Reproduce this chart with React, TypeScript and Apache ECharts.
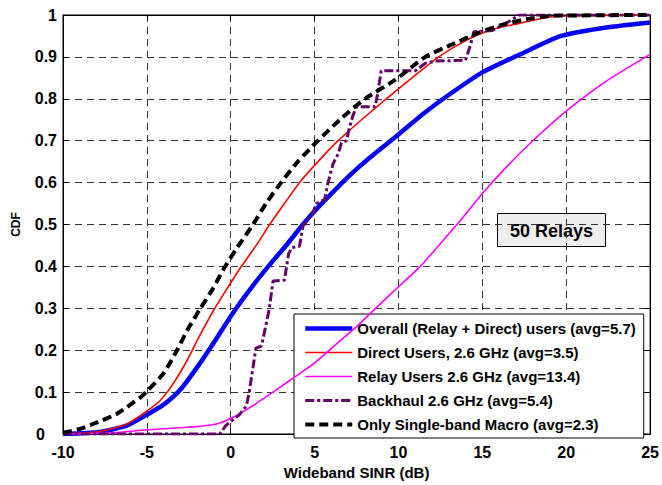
import React, { useEffect, useRef } from "react";
import * as echarts from "echarts";

const FONT = "'Liberation Sans', Arial, Helvetica, sans-serif";

const overallUsers: [number, number][] = [
  [-10, 0], [-7.8, 0.005], [-6.2, 0.02], [-5, 0.046], [-4, 0.07], [-3, 0.106],
  [-1.85, 0.168], [-0.85, 0.228], [0.15, 0.29], [1.3, 0.353], [2.3, 0.403],
  [3.3, 0.45], [4.3, 0.5], [5.3, 0.545], [6.4, 0.59], [7.3, 0.625], [8.3, 0.66],
  [10, 0.715], [11.5, 0.765], [13.2, 0.815], [15, 0.863], [17.2, 0.905],
  [19.6, 0.949], [22, 0.968], [25, 0.982],
];

const directUsers: [number, number][] = [
  [-10, 0], [-7.8, 0.006], [-6.2, 0.024], [-5, 0.055], [-4.2, 0.08], [-3.4, 0.122],
  [-2.6, 0.176], [-1.85, 0.235], [-1.05, 0.293], [-0.25, 0.345], [0.55, 0.395],
  [1.6, 0.455], [2.32, 0.5], [3.2, 0.55], [4.1, 0.6], [5.2, 0.65], [6.4, 0.7],
  [7.8, 0.75], [9.27, 0.8], [10.8, 0.85], [12.4, 0.9], [13.6, 0.93], [14.8, 0.954],
  [16, 0.97], [17.2, 0.98], [18.3, 0.99], [19.4, 0.997], [25, 1],
];

const relayUsers: [number, number][] = [
  [-10, 0], [-7, 0.003], [-5, 0.01], [-2.6, 0.016], [-0.85, 0.024], [0.15, 0.04],
  [1.3, 0.067], [2.3, 0.094], [3.6, 0.13], [5, 0.17], [6.3, 0.215], [7.6, 0.26],
  [8.9, 0.31], [10.1, 0.355], [11.3, 0.4], [12.4, 0.45], [13.7, 0.51], [15, 0.574],
  [16.5, 0.64], [18.2, 0.707], [20.2, 0.777], [22.5, 0.845], [25, 0.906],
];

const backhaul: [number, number][] = [
  [-10, 0], [-0.65, 0], [-0.3, 0.02], [0, 0.03], [0.5, 0.045], [0.93, 0.067],
  [1.1, 0.1], [1.33, 0.16], [1.5, 0.205], [1.83, 0.21], [2.1, 0.26], [2.3, 0.3],
  [2.52, 0.365], [3.2, 0.367], [3.45, 0.43], [3.65, 0.445], [4.1, 0.448],
  [4.3, 0.496], [4.9, 0.528], [5.1, 0.55], [5.6, 0.56], [5.8, 0.6], [6.1, 0.645],
  [6.4, 0.668], [6.6, 0.695], [6.9, 0.7], [7.1, 0.735], [7.3, 0.762], [7.5, 0.781],
  [8.6, 0.781], [8.75, 0.81], [8.97, 0.867], [11.0, 0.867], [11.6, 0.885],
  [12.2, 0.89], [14.0, 0.892], [14.3, 0.93], [14.5, 0.96], [15.6, 0.963],
  [16.4, 0.98], [17.2, 1.0], [25, 1.0],
];

const singleBandMacro: [number, number][] = [
  [-10, 0.003], [-9, 0.012], [-8.2, 0.024], [-6.8, 0.048], [-5.4, 0.087], [-5, 0.102],
  [-4, 0.145], [-3.2, 0.2], [-2.6, 0.247], [-1.85, 0.297], [-1.05, 0.348],
  [-0.45, 0.392], [0.3, 0.44], [1.33, 0.5], [2.1, 0.55], [3.0, 0.6],
  [4.0, 0.65], [5.2, 0.7], [6.5, 0.75], [8.0, 0.8], [9.8, 0.845], [11.6, 0.9],
  [13.2, 0.93], [14.8, 0.958], [16.2, 0.977], [17.6, 0.99], [19.2, 0.998], [25, 1],
];

const seriesNames = [
  "Overall (Relay + Direct) users (avg=5.7)",
  "Direct Users, 2.6 GHz (avg=3.5)",
  "Relay Users 2.6 GHz (avg=13.4)",
  "Backhaul 2.6 GHz (avg=5.4)",
  "Only Single-band Macro (avg=2.3)",
];

const xTicks = { min: -10, max: 25, interval: 5 };
const yTicks = { min: 0, max: 1, interval: 0.1 };
const annotation = "50 Relays";
const xTitle = "Wideband SINR (dB)";
const yTitle = "CDF";

export default function App() {
  const ref = useRef<HTMLDivElement>(null);
  useEffect(() => {
    if (!ref.current) return;
    const chart = echarts.init(ref.current, undefined, { renderer: "svg" });
    const styles = [
      { color: "#0000ff", width: 4.5, type: "solid" as any, smooth: 0.2 },
      { color: "#ff0000", width: 1.6, type: "solid" as any, smooth: 0.2 },
      { color: "#ff00ff", width: 1.6, type: "solid" as any, smooth: 0.2 },
      { color: "#660066", width: 3, type: [9, 3, 3, 3] as any, smooth: false },
      { color: "#000000", width: 4, type: [9, 5] as any, smooth: 0.2 },
    ];
    const datasets = [overallUsers, directUsers, relayUsers, backhaul, singleBandMacro];
    const gridLine = { show: true, lineStyle: { color: "#333", type: [7, 5] as any, width: 1 } };
    const labelText = { fontSize: 16, fontWeight: "bold" as const, color: "#000", fontFamily: FONT };
    const axisCommonX = {
      type: "value" as const,
      min: xTicks.min,
      max: xTicks.max,
      interval: xTicks.interval,
    };
    const axisCommonY = {
      type: "value" as const,
      min: yTicks.min,
      max: yTicks.max,
      interval: yTicks.interval,
    };
    chart.setOption({
      animation: false,
      textStyle: { fontFamily: FONT },
      grid: {
        left: 63, right: 11, top: 15, bottom: 43,
        show: true, borderColor: "#000", borderWidth: 1, backgroundColor: "#fff",
      },
      xAxis: [
        {
          ...axisCommonX,
          position: "bottom",
          name: xTitle,
          nameLocation: "middle",
          nameGap: 31,
          nameTextStyle: { fontSize: 15, fontWeight: "bold", color: "#000", fontFamily: FONT },
          axisLine: { show: true, onZero: false, lineStyle: { color: "#000", width: 1 } },
          axisTick: { show: true, inside: true, length: 5, lineStyle: { color: "#000" } },
          axisLabel: { ...labelText, margin: 10 },
          splitLine: gridLine,
        },
        {
          ...axisCommonX,
          position: "top",
          axisLine: { show: true, onZero: false, lineStyle: { color: "#000", width: 1 } },
          axisTick: { show: true, inside: true, length: 5, lineStyle: { color: "#000" } },
          axisLabel: { show: false },
          splitLine: { show: false },
        },
      ],
      yAxis: [
        {
          ...axisCommonY,
          position: "left",
          name: yTitle,
          nameLocation: "middle",
          nameGap: 41,
          nameRotate: 90,
          nameTextStyle: { fontSize: 12, fontWeight: "bold", color: "#000", fontFamily: FONT },
          axisLine: { show: true, onZero: false, lineStyle: { color: "#000", width: 1 } },
          axisTick: { show: true, inside: true, length: 5, lineStyle: { color: "#000" } },
          axisLabel: {
            ...labelText,
            margin: 6,
            formatter: (v: number) => (v === 0 ? "{z|0}" : String(Math.round(v * 10) / 10)),
            rich: { z: { ...labelText, padding: [0, 12, 0, 0] } },
          },
          splitLine: gridLine,
        },
        {
          ...axisCommonY,
          position: "right",
          axisLine: { show: true, onZero: false, lineStyle: { color: "#000", width: 1 } },
          axisTick: { show: true, inside: true, length: 5, lineStyle: { color: "#000" } },
          axisLabel: { show: false },
          splitLine: { show: false },
        },
      ],
      legend: {
        orient: "vertical",
        left: 294,
        top: 314,
        itemWidth: 47,
        itemHeight: 14,
        itemGap: 9,
        padding: [7, 8, 6, 9],
        backgroundColor: "#fff",
        borderColor: "#000",
        borderWidth: 1,
        borderRadius: 0,
        textStyle: { fontSize: 15, fontWeight: "bold", color: "#000", lineHeight: 15, fontFamily: FONT },
        data: seriesNames.map((n, i) => ({
          name: n,
          itemStyle: { opacity: 0, borderWidth: 0 },
          lineStyle: { width: styles[i].width, type: styles[i].type, color: styles[i].color },
        })),
      },
      graphic: [
        {
          type: "group",
          left: 497,
          top: 213,
          children: [
            {
              type: "rect",
              shape: { x: 0, y: 0, width: 108, height: 33 },
              style: { fill: "#eeeeee", stroke: "#000", lineWidth: 1 },
            },
            {
              type: "text",
              x: 54,
              y: 17,
              style: {
                text: annotation,
                fill: "#000",
                font: `bold 18px ${FONT}`,
                align: "center",
                verticalAlign: "middle",
              },
            },
          ],
        },
      ],
      series: datasets.map((d, i) => ({
        name: seriesNames[i],
        type: "line",
        data: d,
        symbol: "none",
        showSymbol: false,
        smooth: styles[i].smooth,
        xAxisIndex: 0,
        yAxisIndex: 0,
        lineStyle: { color: styles[i].color, width: styles[i].width, type: styles[i].type },
        itemStyle: { color: styles[i].color },
        z: 2 + i,
      })),
    });
    return () => chart.dispose();
  }, []);
  return (
    <div
      ref={ref}
      style={{ position: "fixed", left: 0, top: 0, width: 662, height: 485, background: "#fff" }}
    />
  );
}
